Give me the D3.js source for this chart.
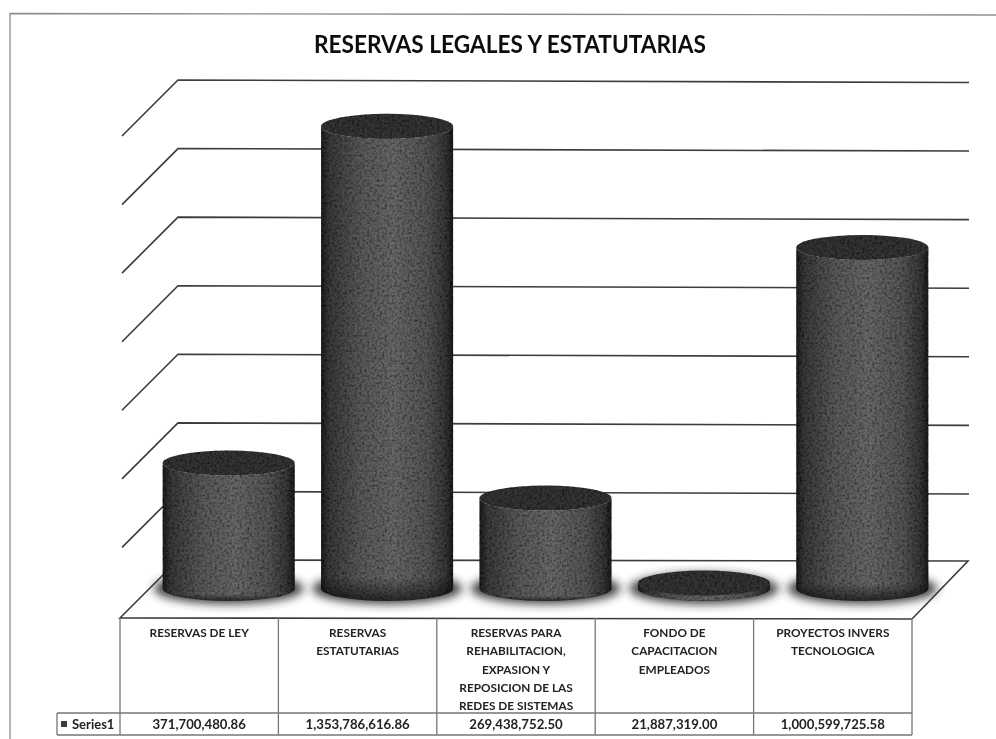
<!DOCTYPE html>
<html><head><meta charset="utf-8">
<script src="https://cdnjs.cloudflare.com/ajax/libs/d3/7.8.5/d3.min.js"></script>
<style>html,body{margin:0;padding:0;background:#fff}svg{display:block}</style>
</head><body><div id="c"></div>
<script>
const titleText = "RESERVAS LEGALES Y ESTATUTARIAS";
const categories = ["RESERVAS DE LEY","RESERVAS ESTATUTARIAS","RESERVAS PARA REHABILITACION, EXPASION Y REPOSICION DE LAS REDES DE SISTEMAS","FONDO DE CAPACITACION EMPLEADOS","PROYECTOS INVERS TECNOLOGICA"];
const categoryLines = [["RESERVAS DE LEY"],["RESERVAS","ESTATUTARIAS"],["RESERVAS PARA","REHABILITACION,","EXPASION Y","REPOSICION DE LAS","REDES DE SISTEMAS"],["FONDO DE","CAPACITACION","EMPLEADOS"],["PROYECTOS INVERS","TECNOLOGICA"]];
const values = [371700480.86,1353786616.86,269438752.50,21887319.00,1000599725.58];
const valueLabels = ["371,700,480.86","1,353,786,616.86","269,438,752.50","21,887,319.00","1,000,599,725.58"];
const seriesName = "Series1";
const gridTicks = [0,2e8,4e8,6e8,8e8,1e9,1.2e9,1.4e9];

const W=996,H=739;
const svg=d3.select("#c").append("svg").attr("width",W).attr("height",H);
const defs=svg.append("defs");
const soft=defs.append("filter").attr("id","soft").attr("x","-2%").attr("y","-2%").attr("width","104%").attr("height","104%");
soft.append("feGaussianBlur").attr("stdDeviation",0.65);
const shadow=defs.append("filter").attr("id","shadow").attr("x","-20%").attr("y","-50%").attr("width","140%").attr("height","200%");
shadow.append("feGaussianBlur").attr("stdDeviation",5);
const grad=defs.append("linearGradient").attr("id","cyl").attr("x1",0).attr("x2",1).attr("y1",0).attr("y2",0);
[[0,"#1e1e1e"],[.06,"#3a3a3a"],[.3,"#5a5a5a"],[.55,"#686868"],[.8,"#565656"],[.94,"#383838"],[1,"#1e1e1e"]]
 .forEach(s=>grad.append("stop").attr("offset",s[0]).attr("stop-color",s[1]));
const shade=defs.append("linearGradient").attr("id","baseShade").attr("x1",0).attr("x2",0).attr("y1",0).attr("y2",1);
shade.append("stop").attr("offset",0).attr("stop-color","#000").attr("stop-opacity",0);
shade.append("stop").attr("offset",.95).attr("stop-color","#000").attr("stop-opacity",0);
shade.append("stop").attr("offset",1).attr("stop-color","#000").attr("stop-opacity",.6);
const tex=defs.append("filter").attr("id","tex").attr("x",0).attr("y",0).attr("width","100%").attr("height","100%");
tex.append("feTurbulence").attr("type","fractalNoise").attr("baseFrequency",0.4).attr("numOctaves",2).attr("seed",4).attr("result","n");
tex.append("feColorMatrix").attr("in","n").attr("type","matrix")
 .attr("values","0 0 0 0 0  0 0 0 0 0  0 0 0 0 0  1.6 0 0 0 -0.6").attr("result","a");
tex.append("feComposite").attr("in","a").attr("in2","SourceGraphic").attr("operator","in").attr("result","b");
tex.append("feMerge").selectAll("feMergeNode").data(["SourceGraphic","b"]).join("feMergeNode").attr("in",d=>d);

const root=svg.append("g").attr("filter","url(#soft)");

// frame
root.append("path").attr("d","M10,739V13.5L996,15").attr("fill","none").attr("stroke","#8c8c8c").attr("stroke-width",1.3);

// title
root.append("text").attr("x",510).attr("y",53).attr("text-anchor","middle")
 .attr("font-family","Lato, 'Open Sans', sans-serif").attr("font-weight",700).attr("font-size",24.5).attr("fill","#111")
 .attr("textLength",392).attr("lengthAdjust","spacingAndGlyphs").text(titleText);

// geometry
const backY0=560, backYTop=80, depthX=58, depthY=58;
const yScale=d3.scaleLinear().domain([0,1.4e9]).range([backY0,backYTop]);
const heightScale=d3.scaleLinear().domain([0,1.4e9]).range([0,backY0-backYTop]);
const frontLeft=120, frontRight=912, floorY=618;
const xBand=d3.scaleBand().domain(categories).range([frontLeft,frontRight]);
const wallLeft=frontLeft+depthX, wallRight=968;

// gridlines
const grid=root.append("g").attr("fill","none").attr("stroke","#3c3c3c").attr("stroke-width",1.6);
grid.selectAll("path").data(gridTicks.slice(1)).join("path")
 .attr("d",d=>{const y=yScale(d);return `M${wallLeft-depthX+2},${y+depthY-2}L${wallLeft},${y}L${wallRight+1},${y+2.5}`;});
// floor
root.append("path").attr("d",`M${frontLeft},${floorY}L${wallLeft},${backY0}L${wallRight},${backY0+1}L${frontRight},${floorY+1}Z`)
 .attr("fill","#fff").attr("stroke","#3c3c3c").attr("stroke-width",1.6);

// cylinders
const rx=66, ry=12.5, baseY=588.5, topDrop=2;
const cyl=root.selectAll("g.cyl").data(categories.map((c,i)=>({c,v:values[i]}))).join("g").attr("class","cyl");
cyl.each(function(d){
  const g=d3.select(this);
  const cx=xBand(d.c)+xBand.bandwidth()/2+29.5;
  const top=baseY+topDrop-heightScale(d.v);
  g.append("ellipse").attr("cx",cx).attr("cy",baseY).attr("rx",rx+9).attr("ry",ry+3)
    .attr("fill","#2a2a2a").attr("opacity",.9).attr("filter","url(#shadow)");
  const body=`M${cx-rx},${top}V${baseY}A${rx},${ry} 0 0 0 ${cx+rx},${baseY}V${top}A${rx},${ry} 0 0 1 ${cx-rx},${top}Z`;
  g.append("path").attr("d",body).attr("fill","url(#cyl)").attr("filter","url(#tex)");
  g.append("path").attr("d",body).attr("fill","url(#baseShade)");
  g.append("ellipse").attr("cx",cx).attr("cy",top).attr("rx",rx).attr("ry",ry).attr("fill","#363636").attr("filter","url(#tex)");
});

// data table
const rowTop=floorY, rowMid=713, rowBot=735, legendLeft=57;
const tbl=root.append("g").attr("fill","none").attr("stroke","#777").attr("stroke-width",1.3);
tbl.append("path").attr("d",`M${frontLeft},${rowTop}V${rowBot}M${frontRight},${rowTop}V${rowBot}M${legendLeft},${rowMid}H${frontRight}M${legendLeft},${rowBot}H${frontRight}M${legendLeft},${rowMid}V${rowBot}`);
tbl.selectAll("line").data(categories.slice(1)).join("line")
  .attr("x1",d=>xBand(d)).attr("x2",d=>xBand(d)).attr("y1",rowTop).attr("y2",rowBot);

const font="Lato, 'Open Sans', sans-serif";
const labels=root.selectAll("g.lab").data(categories).join("g").attr("class","lab")
 .attr("transform",d=>`translate(${xBand(d)+xBand.bandwidth()/2},0)`)
 .attr("font-family",font).attr("font-weight",700).attr("font-size",11.8).attr("fill","#222").attr("text-anchor","middle");
labels.selectAll("text").data((d,i)=>categoryLines[i]).join("text")
 .attr("y",(d,i)=>637+i*18.3).text(d=>d);
root.selectAll("text.val").data(valueLabels).join("text").attr("class","val")
 .attr("x",(d,i)=>xBand(categories[i])+xBand.bandwidth()/2).attr("y",729)
 .attr("font-family",font).attr("font-weight",700).attr("font-size",13.2).attr("fill","#222").attr("text-anchor","middle").text(d=>d);
root.append("rect").attr("x",61).attr("y",721).attr("width",6).attr("height",6).attr("fill","#3a3a3a");
root.append("text").attr("x",72).attr("y",729).attr("font-family",font).attr("font-weight",700).attr("font-size",13).attr("fill","#222").text(seriesName);
</script></body></html>
